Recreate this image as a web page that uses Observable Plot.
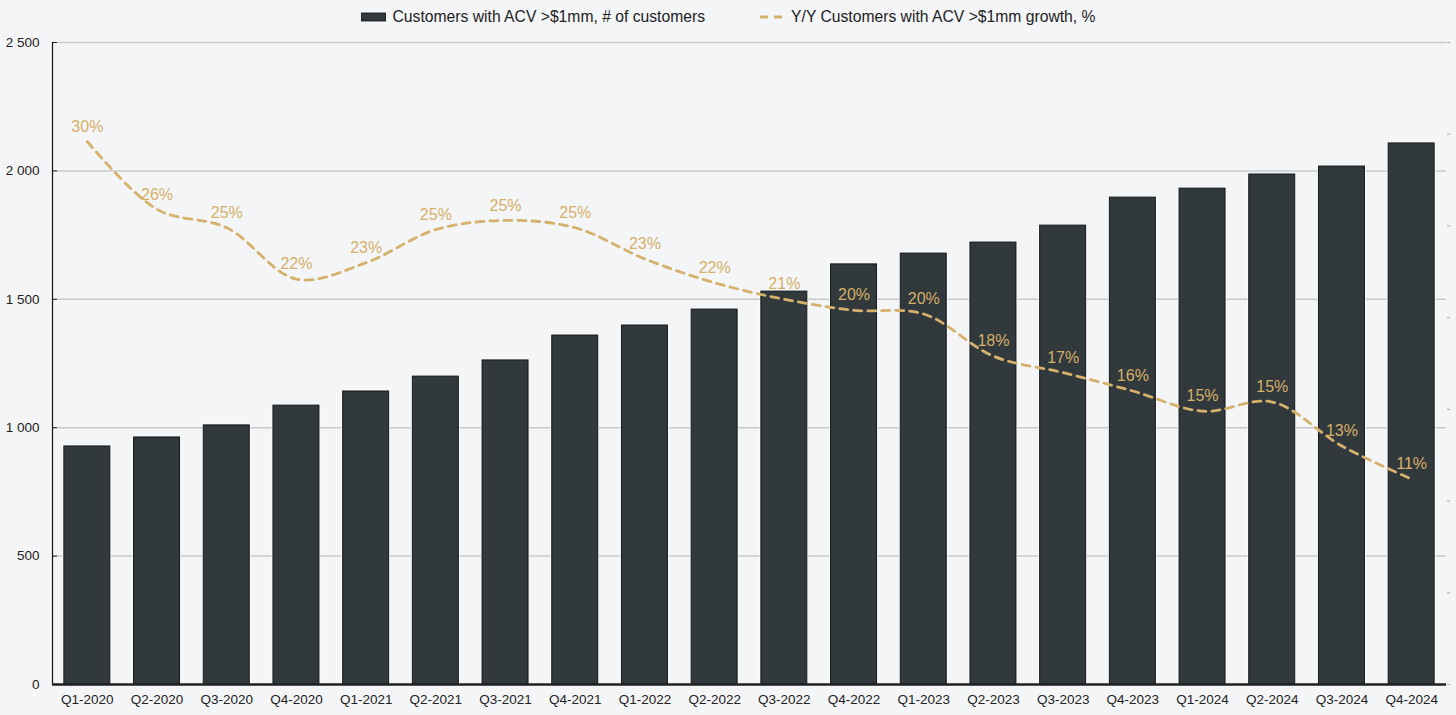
<!DOCTYPE html>
<html>
<head>
<meta charset="utf-8">
<script src="https://cdn.jsdelivr.net/npm/d3@7"></script>
<script src="https://cdn.jsdelivr.net/npm/@observablehq/plot@0.6"></script>
<style>
  html, body { margin: 0; padding: 0; background: #f4f5f7; }
  body { font-family: "Liberation Sans", Arial, Helvetica, sans-serif; width: 1456px; }
  #legend { height: 34px; display: flex; justify-content: center; align-items: center; gap: 54px; font-size: 15.7px; color: #222; }
  .item { display: flex; align-items: center; gap: 7px; }
  #chart svg { display: block; }
</style>
</head>
<body>
<div id="legend">
  <div class="item"><svg width="25" height="10"><rect x="0" y="1" width="25" height="8" fill="#31393c" stroke="#111" stroke-width="0.8"/></svg><span>Customers with ACV &gt;$1mm, # of customers</span></div>
  <div class="item"><svg width="25" height="10"><line x1="0" y1="5" x2="25" y2="5" stroke="#d5b16c" stroke-width="2.8" stroke-dasharray="8,6" stroke-dashoffset="-1"/></svg><span>Y/Y Customers with ACV &gt;$1mm growth, %</span></div>
</div>
<div id="chart"></div>
<script>
const quarters = ["Q1-2020","Q2-2020","Q3-2020","Q4-2020","Q1-2021","Q2-2021","Q3-2021","Q4-2021","Q1-2022","Q2-2022","Q3-2022","Q4-2022","Q1-2023","Q2-2023","Q3-2023","Q4-2023","Q1-2024","Q2-2024","Q3-2024","Q4-2024"];
const customers = [927, 962, 1009, 1086, 1141, 1199, 1262, 1359, 1398, 1460, 1530, 1636, 1678, 1721, 1787, 1896, 1931, 1986, 2017, 2107];
const growth = [29.6, 25.9, 24.9, 22.1, 23.0, 24.8, 25.3, 24.9, 23.2, 21.9, 21.0, 20.4, 20.2, 17.9, 17.0, 16.0, 14.9, 15.4, 13.0, 11.2];
const yTicks = [0, 500, 1000, 1500, 2000, 2500];
const pctTicks = [0, 5, 10, 15, 20, 25, 30, 35];
const pctMax = 35;
const yMax = 2500;

const data = quarters.map((q, i) => ({q, customers: customers[i], growth: growth[i], label: Math.round(growth[i]) + "%"}));
const pctToY = v => v * yMax / pctMax;
const fmt = v => d3.format(",")(v).replace(/,/g, " ");

const chart = Plot.plot({
  width: 1456,
  height: 681,
  marginLeft: 52,
  marginRight: 10,
  marginTop: 8,
  marginBottom: 31,
  style: { background: "transparent", fontFamily: "'Liberation Sans', Arial, Helvetica, sans-serif", fontSize: "13.5px", color: "#222" },
  x: { type: "band", domain: quarters, paddingInner: 0.34, paddingOuter: 0.17, align: 0.5, round: false, label: null },
  y: { domain: [0, yMax], label: null },
  marks: [
    Plot.ruleY(yTicks, { stroke: "#c9cacc", strokeWidth: 1.5 }),
    Plot.axisY({ ticks: yTicks, tickFormat: fmt, tickSize: -5, tickPadding: 18, stroke: "#222", fill: "#222", fontSize: 13.5, label: null }),
    Plot.axisY({ anchor: "right", ticks: pctTicks.map(pctToY), tickFormat: () => "", tickSize: 3, stroke: "#aaa", label: null }),
    Plot.axisX({ tickSize: 0, tickPadding: 10, fill: "#222", fontSize: 13.5, label: null }),
    Plot.barY(data, { x: "q", y: "customers", fill: "#31393c", stroke: "#ffffff", strokeWidth: 2.5 }),
    Plot.barY(data, { x: "q", y: "customers", fill: "#31393c", stroke: "#141719", strokeWidth: 1 }),
    Plot.frame({ anchor: "left", stroke: "#111", strokeWidth: 1.2 }),
    Plot.ruleY([0], { stroke: "#222", strokeWidth: 2.5 }),
    Plot.line(data, { x: "q", y: d => pctToY(d.growth), curve: "catmull-rom", stroke: "#d5b16c", strokeWidth: 2.8, strokeDasharray: "8,6" }),
    Plot.text(data, { x: "q", y: d => pctToY(d.growth), text: "label", dy: -15, fill: "#d6b068", fontSize: 16 })
  ]
});
document.getElementById("chart").appendChild(chart);
</script>
</body>
</html>
